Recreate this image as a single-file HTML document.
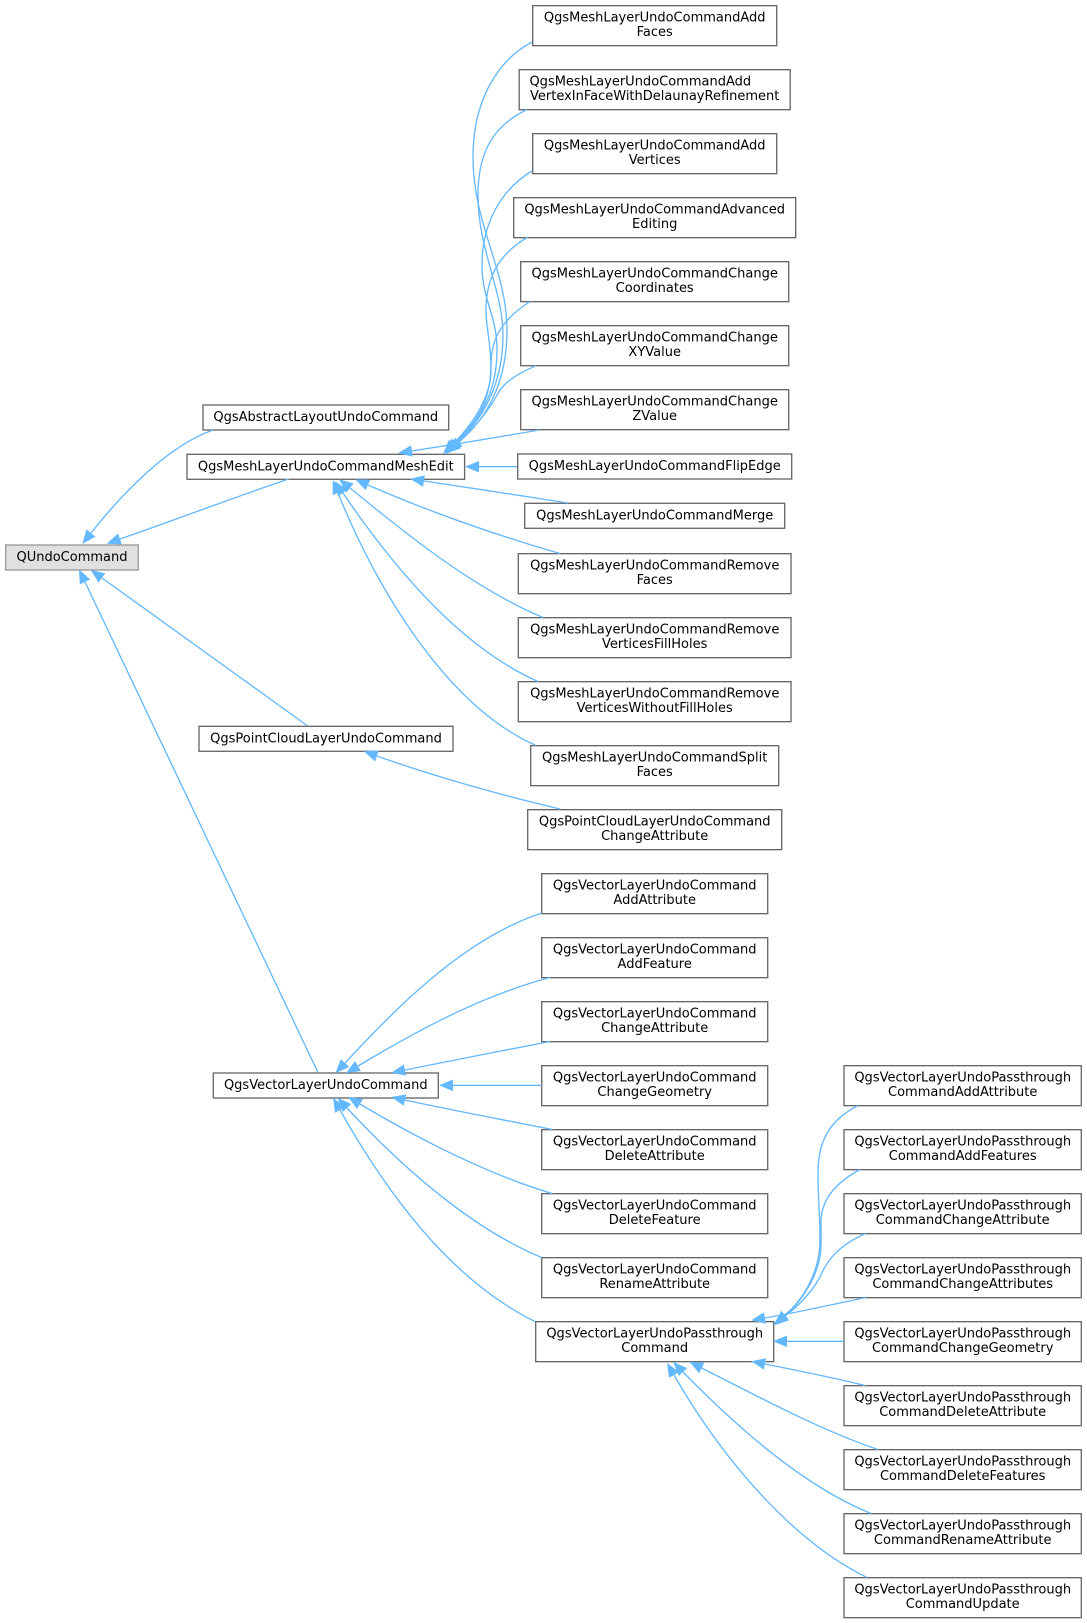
<!DOCTYPE html>
<html><head><meta charset="utf-8"><style>
html,body{margin:0;padding:0;background:#fff}
svg{display:block}
.n{fill:#fff;stroke:#666;stroke-width:1.33}
.e path{fill:none;stroke:#63b8ff;stroke-width:1.33;marker-start:url(#a)}
text{font-family:"DejaVu Sans",sans-serif;font-size:13px;text-anchor:middle;fill:#000}
</style></head><body>
<svg width="1087" height="1623" viewBox="0 0 1087 1623" xmlns="http://www.w3.org/2000/svg">
<defs><marker id="a" markerUnits="userSpaceOnUse" markerWidth="16" markerHeight="14" refX="0" refY="7" orient="auto-start-reverse"><polygon points="0,1.2 14,7 0,12.8" fill="#63b8ff"/></marker></defs>
<g>
<rect x="5.67" y="545" width="132.6" height="25" fill="#e0e0e0" stroke="#999" stroke-width="1.33"/>
<rect class="n" x="203" y="405" width="245.7" height="25"/>
<rect class="n" x="187" y="454.3" width="277.6" height="25"/>
<rect class="n" x="199" y="726.3" width="254" height="25"/>
<rect class="n" x="213.3" y="1073" width="225" height="25"/>
<rect class="n" x="535.7" y="1321.67" width="238" height="40"/>
<rect class="n" x="532.7" y="5.67" width="244" height="40"/>
<rect class="n" x="519.2" y="69.67" width="271" height="40"/>
<rect class="n" x="532.7" y="133.67" width="244" height="40"/>
<rect class="n" x="513.7" y="197.67" width="282" height="40"/>
<rect class="n" x="520.7" y="261.67" width="268" height="40"/>
<rect class="n" x="520.7" y="325.67" width="268" height="40"/>
<rect class="n" x="520.7" y="389.67" width="268" height="40"/>
<rect class="n" x="517.7" y="454" width="274" height="25"/>
<rect class="n" x="524.7" y="503.3" width="260" height="25"/>
<rect class="n" x="518.3" y="553.67" width="272.7" height="40"/>
<rect class="n" x="518.3" y="617.67" width="272.7" height="40"/>
<rect class="n" x="518.3" y="681.67" width="272.7" height="40"/>
<rect class="n" x="530.7" y="745.67" width="248" height="40"/>
<rect class="n" x="527.7" y="809.67" width="254" height="40"/>
<rect class="n" x="541.7" y="873.67" width="226" height="40"/>
<rect class="n" x="541.7" y="937.67" width="226" height="40"/>
<rect class="n" x="541.7" y="1001.67" width="226" height="40"/>
<rect class="n" x="541.7" y="1065.67" width="226" height="40"/>
<rect class="n" x="541.7" y="1129.67" width="226" height="40"/>
<rect class="n" x="541.7" y="1193.67" width="226" height="40"/>
<rect class="n" x="541.7" y="1257.67" width="226" height="40"/>
<rect class="n" x="844" y="1065.67" width="237.3" height="40"/>
<rect class="n" x="844" y="1129.67" width="237.3" height="40"/>
<rect class="n" x="844" y="1193.67" width="237.3" height="40"/>
<rect class="n" x="844" y="1257.67" width="237.3" height="40"/>
<rect class="n" x="844" y="1321.67" width="237.3" height="40"/>
<rect class="n" x="844" y="1385.67" width="237.3" height="40"/>
<rect class="n" x="844" y="1449.67" width="237.3" height="40"/>
<rect class="n" x="844" y="1513.67" width="237.3" height="40"/>
<rect class="n" x="844" y="1577.67" width="237.3" height="40"/>
</g>
<g class="e">
<path d="M91,533 C125,490 170,445 213,430"/>
<path d="M120,539 C175,520 235,497 288.7,479"/>
<path d="M102,578 L307,725.5"/>
<path d="M85,582 L318,1072.5"/>
<path d="M459,442 C485,420 507,385 507,330 C507,270 473,225 473,157 C473,100 498,60 532,42"/>
<path d="M457,443 C482,420 503,385 503,335 C503,290 478,250 478,195 C478,150 495,125 527,109.5"/>
<path d="M455,443 C478,422 497,395 497,350 C497,315 482,300 482,265 C482,225 500,190 532,171"/>
<path d="M453,444 C475,422 491,395 491,370 C491,340 486,330 486,310 C486,280 497,255 528,237"/>
<path d="M455,444 C478,420 491,400 491,365 C491,335 505,318 530,301.5"/>
<path d="M457,444 C472,430 488,412 497,395 C505,380 520,373 536,365.7"/>
<path d="M412,451 C450,445 500,437 539,430"/>
<path d="M479,466.7 L517,466.7"/>
<path d="M424,481 C470,488 525,496 568,503"/>
<path d="M368,485 C425,510 495,535 560,553.5"/>
<path d="M350,488 C385,516 465,585 543,617.5"/>
<path d="M343,493 C385,555 455,645 538,681.5"/>
<path d="M338,493 C375,585 445,705 535,745"/>
<path d="M377,756 C430,775 500,795 560,809"/>
<path d="M345,1063 C390,1015 460,940 541.7,913"/>
<path d="M358,1066 C415,1032 480,996 550,977.5"/>
<path d="M405,1070 C450,1061 505,1050 550,1041.5"/>
<path d="M453,1085.3 L541.7,1085.3"/>
<path d="M405,1100 C450,1110 505,1120 552,1129.5"/>
<path d="M360,1104 C420,1140 490,1175 552,1193.5"/>
<path d="M347,1108 C400,1165 470,1228 541.7,1257.5"/>
<path d="M340,1110 C385,1190 450,1280 535,1321.5"/>
<path d="M785,1315 C805,1298 820,1270 820,1240 C820,1215 818,1200 818,1173 C818,1140 830,1120 858,1105.5"/>
<path d="M785,1316 C803,1300 821,1272 821,1245 C821,1235 821,1230 821,1222 C821,1200 835,1183 860,1169.5"/>
<path d="M785,1316 C800,1305 813,1290 820,1277 C828,1258 840,1245 865.7,1233.5"/>
<path d="M765,1318 C800,1312 835,1304 865.7,1297.5"/>
<path d="M787,1341.3 L844,1341.3"/>
<path d="M765,1364 C800,1371 835,1378 865,1385.5"/>
<path d="M701.7,1368 C755,1395 820,1430 878,1449.5"/>
<path d="M683,1372 C730,1420 800,1485 871,1513.5"/>
<path d="M674,1375 C720,1455 790,1540 867,1577.5"/>
</g>
<g>
<text x="72" y="561">QUndoCommand</text>
<text x="325.8" y="421">QgsAbstractLayoutUndoCommand</text>
<text x="325.8" y="470.3">QgsMeshLayerUndoCommandMeshEdit</text>
<text x="326" y="742.3">QgsPointCloudLayerUndoCommand</text>
<text x="325.8" y="1089">QgsVectorLayerUndoCommand</text>
<text x="654.7" y="1337.3">QgsVectorLayerUndoPassthrough</text><text x="654.7" y="1352">Command</text>
<text x="654.7" y="21.3">QgsMeshLayerUndoCommandAdd</text><text x="654.7" y="36">Faces</text>
<text x="640.3" y="85.3">QgsMeshLayerUndoCommandAdd</text><text x="654.7" y="100">VertexInFaceWithDelaunayRefinement</text>
<text x="654.7" y="149.3">QgsMeshLayerUndoCommandAdd</text><text x="654.7" y="164">Vertices</text>
<text x="654.7" y="213.3">QgsMeshLayerUndoCommandAdvanced</text><text x="654.7" y="228">Editing</text>
<text x="654.7" y="277.3">QgsMeshLayerUndoCommandChange</text><text x="654.7" y="292">Coordinates</text>
<text x="654.7" y="341.3">QgsMeshLayerUndoCommandChange</text><text x="654.7" y="356">XYValue</text>
<text x="654.7" y="405.3">QgsMeshLayerUndoCommandChange</text><text x="654.7" y="420">ZValue</text>
<text x="654.7" y="470">QgsMeshLayerUndoCommandFlipEdge</text>
<text x="654.7" y="519.3">QgsMeshLayerUndoCommandMerge</text>
<text x="654.7" y="569.3">QgsMeshLayerUndoCommandRemove</text><text x="654.7" y="584">Faces</text>
<text x="654.7" y="633.3">QgsMeshLayerUndoCommandRemove</text><text x="654.7" y="648">VerticesFillHoles</text>
<text x="654.7" y="697.3">QgsMeshLayerUndoCommandRemove</text><text x="654.7" y="712">VerticesWithoutFillHoles</text>
<text x="654.7" y="761.3">QgsMeshLayerUndoCommandSplit</text><text x="654.7" y="776">Faces</text>
<text x="654.7" y="825.3">QgsPointCloudLayerUndoCommand</text><text x="654.7" y="840">ChangeAttribute</text>
<text x="654.7" y="889.3">QgsVectorLayerUndoCommand</text><text x="654.7" y="904">AddAttribute</text>
<text x="654.7" y="953.3">QgsVectorLayerUndoCommand</text><text x="654.7" y="968">AddFeature</text>
<text x="654.7" y="1017.3">QgsVectorLayerUndoCommand</text><text x="654.7" y="1032">ChangeAttribute</text>
<text x="654.7" y="1081.3">QgsVectorLayerUndoCommand</text><text x="654.7" y="1096">ChangeGeometry</text>
<text x="654.7" y="1145.3">QgsVectorLayerUndoCommand</text><text x="654.7" y="1160">DeleteAttribute</text>
<text x="654.7" y="1209.3">QgsVectorLayerUndoCommand</text><text x="654.7" y="1224">DeleteFeature</text>
<text x="654.7" y="1273.3">QgsVectorLayerUndoCommand</text><text x="654.7" y="1288">RenameAttribute</text>
<text x="962.7" y="1081.3">QgsVectorLayerUndoPassthrough</text><text x="962.7" y="1096">CommandAddAttribute</text>
<text x="962.7" y="1145.3">QgsVectorLayerUndoPassthrough</text><text x="962.7" y="1160">CommandAddFeatures</text>
<text x="962.7" y="1209.3">QgsVectorLayerUndoPassthrough</text><text x="962.7" y="1224">CommandChangeAttribute</text>
<text x="962.7" y="1273.3">QgsVectorLayerUndoPassthrough</text><text x="962.7" y="1288">CommandChangeAttributes</text>
<text x="962.7" y="1337.3">QgsVectorLayerUndoPassthrough</text><text x="962.7" y="1352">CommandChangeGeometry</text>
<text x="962.7" y="1401.3">QgsVectorLayerUndoPassthrough</text><text x="962.7" y="1416">CommandDeleteAttribute</text>
<text x="962.7" y="1465.3">QgsVectorLayerUndoPassthrough</text><text x="962.7" y="1480">CommandDeleteFeatures</text>
<text x="962.7" y="1529.3">QgsVectorLayerUndoPassthrough</text><text x="962.7" y="1544">CommandRenameAttribute</text>
<text x="962.7" y="1593.3">QgsVectorLayerUndoPassthrough</text><text x="962.7" y="1608">CommandUpdate</text>
</g>
</svg>
</body></html>
